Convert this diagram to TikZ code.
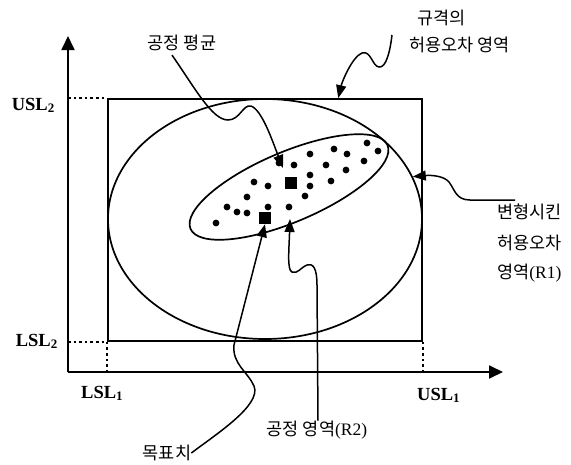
\documentclass[tikz,border=0pt]{standalone}
\usepackage{fontspec}
\setmainfont{Liberation Serif}
\newfontfamily\kr{Noto Sans CJK KR}
\usetikzlibrary{positioning,shapes.geometric,arrows.meta,calc}

\begin{document}
\begin{tikzpicture}[
  x=1pt, y=-1pt,
  every node/.style={inner sep=0pt},
  lim/.style={font=\fontsize{18.5}{22}\selectfont\bfseries},
  kor/.style={font=\kr\fontsize{17.5}{21}\selectfont},
  dot/.style={circle, fill, minimum size=6.8pt},
  sqbox/.style={rectangle, fill, minimum size=12pt},
  region/.style={draw, line width=1.7pt},
  axis/.style={-{Triangle[length=14pt,width=13pt]}, line width=1.8pt},
  guide/.style={line width=2.6pt, dash pattern=on 2.6pt off 3pt},
  arr/.style={-{Triangle[length=13pt,width=10pt]}, line width=1.5pt}
]
\useasboundingbox (0,0) rectangle (571,464);

% ---------------- axes and spec limits ----------------
\coordinate (origin) at (68,372);
\draw[axis] (origin) -- (68,36);
\draw[axis] (origin) -- (503,372);

\node[region, rectangle, minimum width=314pt, minimum height=242pt] (spec) at (265,220) {};

\draw[guide] (origin |- spec.north west) -- (spec.north west);
\draw[guide] (origin |- spec.south west) -- (spec.south west);
\draw[guide] (spec.south west) -- (spec.south west |- origin);
\draw[guide] (spec.south east) -- (spec.south east |- origin);

\node[lim, anchor=base east] (usl2) at (55,110) {USL\textsubscript{2}};
\node[lim, anchor=base east] (lsl2) at (58,346) {LSL\textsubscript{2}};
\node[lim, anchor=base west] (lsl1) at (81,398) {LSL\textsubscript{1}};
\node[lim, anchor=base west] (usl1) at (417,400) {USL\textsubscript{1}};

% ---------------- regions ----------------
\node[region, ellipse, minimum width=314pt, minimum height=240pt] (tol) at (265,219) {};
\node[region, ellipse, minimum width=214pt, minimum height=70pt, rotate=23] (proc) at (289,187) {};

% process points
\foreach \p [count=\i] in {(367,143),(378,151),(334,149),(347,154),(310,154),(364,161),
    (326,165),(294,165),(279,163),(346,170),(310,175),(331,181),(310,186),(254,182),
    (268,186),(305,196),(247,197),(227,207),(237,212),(247,213),(268,207),(289,207),(216,223)}
  \node[dot] (d\i) at \p {};

\node[sqbox] (mean) at (291,183) {};
\node[sqbox] (tgt) at (265,218) {};

% ---------------- labels ----------------
\node[kor] (meanlbl) at (182,43) {공정 평균};
\node[kor, anchor=west] (speclba) at (417,18) {규격의};
\node[kor, anchor=west] (speclbb) at (409,45) {허용오차 영역};
\node[kor, anchor=west] (r1a) at (497,212) {변형시킨};
\node[kor, anchor=west] (r1b) at (497,243) {허용오차};
\node[kor, anchor=west] (r1c) at (497,273) {영역{\rmfamily(R1)}};
\node[kor] (r2lbl) at (317,430) {공정 영역{\rmfamily(R2)}};
\node[kor] (tgtlbl) at (167,453) {목표치};

\coordinate (meantip) at (283,168);
\coordinate (spectip) at ($(spec.north west)!0.732!(spec.north east)$);
\coordinate (r2tip) at (290,219);

% ---------------- connectors ----------------
\draw[arr] ([xshift=-10pt,yshift=-4pt]meanlbl.south) .. controls (195,88) and (212,120) .. (228,120)
  .. controls (240,120) and (243,104) .. (251,106) .. controls (262,110) and (272,140) .. (meantip);
\draw[arr] ([shift={(-17,-10)}]speclbb.west) .. controls (390,52) and (386,68) .. (379,67)
  .. controls (372,66) and (371,50) .. (362,53) .. controls (352,57) and (342,82) .. (spectip);
\draw[arr] ([shift={(18,-12)}]r1a.west) -- (470,200) .. controls (456,200) and (455,190) .. (449,182)
  .. controls (444,176) and (432,175) .. (tol.16);
\draw[arr] ([xshift=1pt]r2lbl.north) -- (317,285) .. controls (317,268) and (313,263) .. (307,265)
  .. controls (300,268) and (298,274) .. (292,272) .. controls (287,270) and (289,250) .. (r2tip);
\draw[arr] (tgtlbl.east) .. controls (215,435) and (262,405) .. (254,386)
  .. controls (248,372) and (232,364) .. (234,345) -- (tgt.south);

\end{tikzpicture}
\end{document}
